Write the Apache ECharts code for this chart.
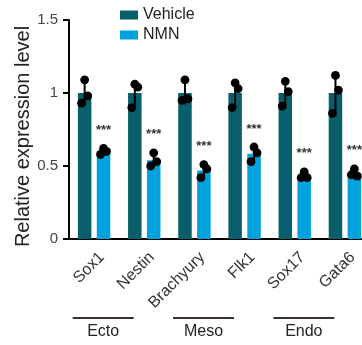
<!DOCTYPE html>
<html><head><meta charset="utf-8">
<script src="https://cdn.jsdelivr.net/npm/echarts@6/dist/echarts.min.js"></script>
<style>html,body{margin:0;padding:0;background:#fff}#c{width:362px;height:345px}</style>
</head><body><div id="c"></div>
<script>
// ---- data ----
const categories = ['Sox1', 'Nestin', 'Brachyury', 'Flk1', 'Sox17', 'Gata6'];
const seriesNames = ['Vehicle', 'NMN'];
const vehiclePoints = [[1.09, 0.98, 0.93], [1.06, 1.04, 0.90], [1.09, 0.96, 0.95], [1.07, 1.03, 0.90], [1.08, 1.01, 0.91], [1.12, 1.02, 0.86]];
const nmnPoints = [[0.62, 0.60, 0.58], [0.59, 0.53, 0.50], [0.51, 0.48, 0.42], [0.63, 0.59, 0.53], [0.46, 0.42, 0.42], [0.48, 0.43, 0.44]];
const significance = ['***', '***', '***', '***', '***', '***'];
const groupNames = ['Ecto', 'Meso', 'Endo'];
const groupRanges = [[0, 1], [2, 3], [4, 5]];
const yTicks = [0, 0.5, 1, 1.5];

// ---- style ----
const FONT = '"Liberation Sans", Arial, sans-serif';
const COLORS = ['#085f6b', '#00a1dc'];
const BAR_W = 13.5, BAR_GAP = 0.4;
const OFFSET = (BAR_W + BAR_W * BAR_GAP) / 2;
const JITTER = [0, 3, -3];

const mean = a => a.reduce((s, v) => s + v, 0) / a.length;
const sd = a => { const m = mean(a); return Math.sqrt(a.reduce((s, v) => s + (v - m) * (v - m), 0) / (a.length - 1)); };
const allPoints = [vehiclePoints, nmnPoints];

const chart = echarts.init(document.getElementById('c'), null, { renderer: 'canvas' });

const series = [];
allPoints.forEach((pts, si) => {
  series.push({
    name: seriesNames[si], type: 'bar', barWidth: BAR_W, barGap: (BAR_GAP * 100) + '%',
    itemStyle: { color: COLORS[si] }, z: 2,
    data: pts.map(mean)
  });
});
allPoints.forEach((pts, si) => {
  const sign = si === 0 ? -1 : 1;
  series.push({
    type: 'custom', z: 3, silent: true,
    data: pts.map((p, i) => [i, mean(p) - sd(p), mean(p) + sd(p)]),
    renderItem: (params, api) => {
      const lo = api.coord([api.value(0), api.value(1)]);
      const hi = api.coord([api.value(0), api.value(2)]);
      const x = lo[0] + sign * OFFSET;
      return { type: 'line', shape: { x1: x, y1: lo[1], x2: x, y2: hi[1] }, style: { stroke: '#000', lineWidth: 2 } };
    }
  });
  const flat = [];
  pts.forEach((p, i) => p.forEach((v, k) => flat.push([i, v, k])));
  series.push({
    type: 'custom', z: 4, silent: true,
    data: flat,
    renderItem: (params, api) => {
      const c = api.coord([api.value(0), api.value(1)]);
      return { type: 'circle', shape: { cx: c[0] + sign * OFFSET + JITTER[api.value(2)], cy: c[1], r: 4.4 }, style: { fill: '#000' } };
    }
  });
});
series.push({
  type: 'custom', z: 5, silent: true,
  data: nmnPoints.map((p, i) => [i, Math.max(...p)]),
  renderItem: (params, api) => {
    const c = api.coord([api.value(0), api.value(1)]);
    return { type: 'text', style: { text: significance[params.dataIndex], x: c[0] + OFFSET, y: c[1] - 18, align: 'center', verticalAlign: 'middle', fill: '#333', font: 'bold 13px ' + FONT } };
  }
});

chart.setOption({
  animation: false,
  textStyle: { fontFamily: FONT },
  legend: {
    data: seriesNames, orient: 'vertical', left: 115, top: 2, icon: 'rect', itemWidth: 18, itemHeight: 9, itemGap: 4,
    textStyle: { fontSize: 16, color: '#222', fontFamily: FONT }
  },
  grid: { left: 69, width: 301, top: 20, bottom: 106, containLabel: false, outerBoundsMode: 'none' },
  xAxis: {
    type: 'category', data: categories,
    axisLine: { lineStyle: { color: '#000', width: 2 } },
    axisTick: { alignWithLabel: true, length: 6, lineStyle: { color: '#000', width: 2 } },
    axisLabel: { rotate: 45, fontSize: 16, color: '#333', margin: 8, verticalAlign: 'top', lineHeight: 22, fontFamily: FONT }
  },
  yAxis: {
    type: 'value', min: yTicks[0], max: yTicks[yTicks.length - 1], interval: yTicks[1] - yTicks[0],
    name: 'Relative expression level', nameLocation: 'middle', nameGap: 36, nameMoveOverlap: false,
    nameTextStyle: { fontSize: 20, color: '#222', fontFamily: FONT, padding: [0, 14, 0, 0] },
    axisLine: { show: true, lineStyle: { color: '#000', width: 2 } },
    axisTick: { show: true, length: 6, lineStyle: { color: '#000', width: 2 } },
    axisLabel: { fontSize: 15, color: '#444', margin: 11, fontFamily: FONT },
    splitLine: { show: false }
  },
  series
});

// group annotations
const graphics = [];
const yLine = chart.convertToPixel({ gridIndex: 0 }, [0, 0])[1] + 79;
groupRanges.forEach((r, gi) => {
  const a = chart.convertToPixel({ xAxisIndex: 0 }, categories[r[0]]);
  const b = chart.convertToPixel({ xAxisIndex: 0 }, categories[r[1]]);
  const cx = (a + b) / 2 - 16;
  graphics.push({ type: 'line', shape: { x1: cx - 30.5, y1: yLine, x2: cx + 30.5, y2: yLine }, style: { stroke: '#3a3030', lineWidth: 2 } });
  graphics.push({ type: 'text', style: { text: groupNames[gi], x: cx, y: yLine + 14, align: 'center', verticalAlign: 'middle', fill: '#222', font: '16px ' + FONT } });
});
chart.setOption({ graphic: graphics });
</script></body></html>
